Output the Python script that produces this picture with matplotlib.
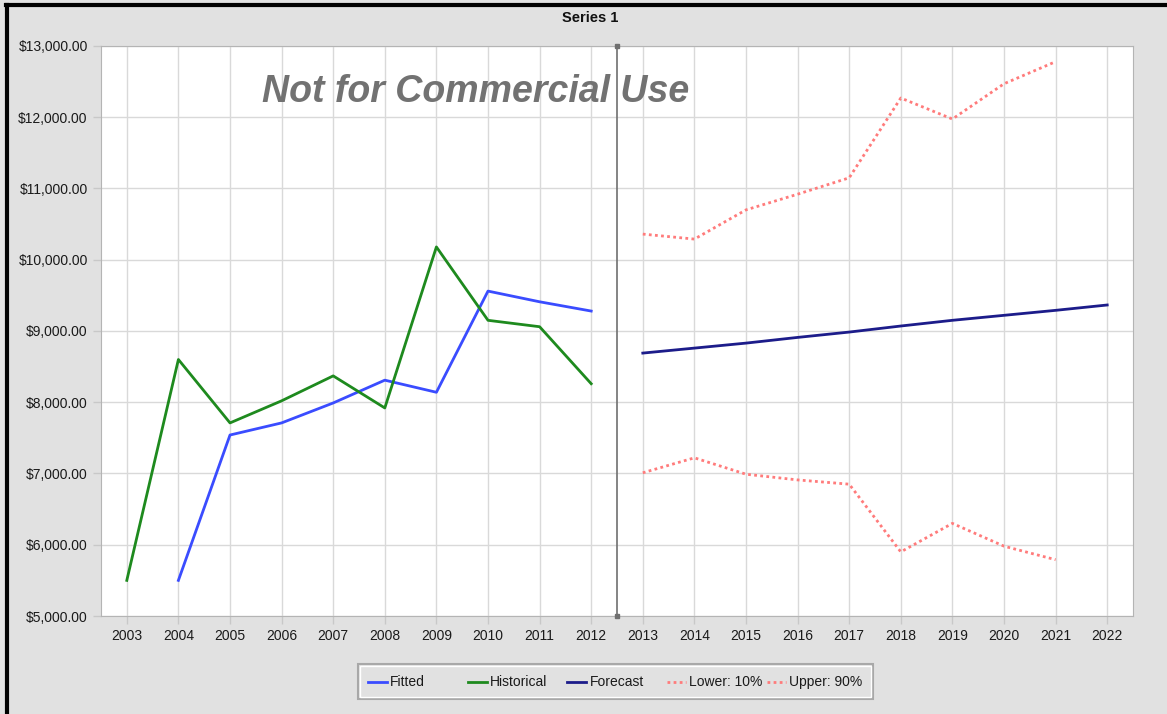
import matplotlib.pyplot as plt
from matplotlib.lines import Line2D
from matplotlib.patches import Rectangle
import matplotlib.ticker as mticker

plt.rcParams['font.family'] = ['Liberation Sans', 'DejaVu Sans']

# data
hist_years = list(range(2003, 2013))
historical = [5500, 8600, 7710, 8020, 8370, 7920, 10180, 9150, 9060, 8260]

fit_years = list(range(2004, 2013))
fitted = [5500, 7540, 7710, 7990, 8310, 8140, 9560, 9410, 9280]

fc_years = list(range(2013, 2023))
forecast = [8690, 8760, 8830, 8910, 8985, 9070, 9150, 9220, 9290, 9365]

band_years = list(range(2013, 2022))
lower = [7010, 7220, 6990, 6910, 6850, 5900, 6300, 5980, 5790]
upper = [10360, 10290, 10700, 10920, 11150, 12270, 11975, 12470, 12780]

all_years = list(range(2003, 2023))

W, H = 1167, 714
fig = plt.figure(figsize=(W / 100, H / 100), dpi=100)
fig.patch.set_facecolor('#e1e1e1')
ax = fig.add_axes([101 / W, 1 - 616 / H, (1133 - 101) / W, (616 - 46) / H])
ax.set_facecolor('white')

dots = (0, (1, 1.2))
series = [
    (fit_years, fitted, '#3a4cff', '-', 'Fitted'),
    (hist_years, historical, '#1e8a1e', '-', 'Historical'),
    (fc_years, forecast, '#1c1c8a', '-', 'Forecast'),
    (band_years, lower, '#ff7b7b', dots, 'Lower: 10%'),
    (band_years, upper, '#ff7b7b', dots, 'Upper: 90%'),
]
for xs, ys, col, ls, lab in series:
    ax.plot(xs, ys, color=col, lw=2, ls=ls, label=lab, zorder=3)

# divider between history and forecast
ax.axvline(2012.5, color='#707070', lw=1.2, zorder=4)
ax.plot([2012.5, 2012.5], [13000, 5000], ls='none', marker='s', ms=3,
        color='#707070', clip_on=False, zorder=5)

ax.set_xlim(2002.5, 2022.5)
ax.set_ylim(5000, 13000)
ax.set_xticks(all_years)
ax.set_xticklabels([str(y) for y in all_years])
ax.yaxis.set_major_locator(mticker.MultipleLocator(1000))
ax.yaxis.set_major_formatter(mticker.FuncFormatter(lambda v, p: '${:,.2f}'.format(v)))

ax.grid(color='#d9d9d9', lw=1)
ax.set_axisbelow(True)
ax.tick_params(axis='both', colors='#c8c8c8', labelcolor='#1a1a1a',
               labelsize=10, length=6, width=1)
ax.tick_params(axis='x', pad=3)
for s in ax.spines.values():
    s.set_color('#b4b4b4')

fig.text(590 / W, 1 - 18 / H, 'Series 1', ha='center', va='center',
         fontsize=10.5, fontweight='bold', color='#111111')

ax.text(0.363, 0.919, 'Not for Commercial Use', transform=ax.transAxes,
        ha='center', va='center', fontsize=27, fontstyle='italic',
        fontweight='bold', color='#727272', zorder=2)

# legend with equal-width columns, like the original tool draws it
fig.add_artist(Rectangle((358 / W, 1 - 699 / H), (873 - 358) / W, (699 - 664) / H,
                         transform=fig.transFigure, facecolor='#e1e1e1',
                         edgecolor='#a8a8a8', lw=1.5))
fig.add_artist(Rectangle((360 / W, 1 - 697 / H), (871 - 360) / W, (697 - 666) / H,
                         transform=fig.transFigure, facecolor='none',
                         edgecolor='white', lw=1))
ly = 1 - 682 / H
for i, (xs, ys, col, ls, lab) in enumerate(series):
    hx = 368 + 99.7 * i
    fig.add_artist(Line2D([hx / W, (hx + 19) / W], [ly, ly], transform=fig.transFigure,
                          color=col, lw=2, ls=ls))
    fig.text((hx + 22) / W, ly, lab, ha='left', va='center',
             fontsize=10, color='#1a1a1a')

# black screenshot border on top and left
fig.add_artist(Line2D([7 / W, 7 / W], [0, 1 - 5 / H], color='black', lw=3,
                      transform=fig.transFigure))
fig.add_artist(Line2D([6 / W, 1], [1 - 5 / H, 1 - 5 / H], color='black', lw=3,
                      transform=fig.transFigure))

fig.savefig('out.png', dpi=100, facecolor=fig.get_facecolor())
